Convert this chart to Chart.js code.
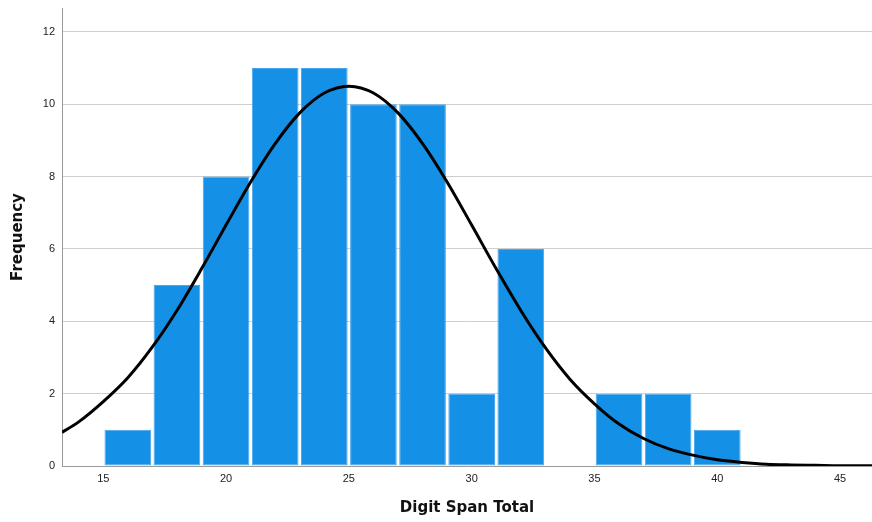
<!DOCTYPE html>
<html>
<head>
<meta charset="utf-8">
<script src="https://cdn.jsdelivr.net/npm/chart.js@4"></script>
<style>
  html, body { margin: 0; padding: 0; background: #fff; }
  #wrap { width: 872px; height: 522px; }
</style>
</head>
<body>
<div id="wrap"><canvas id="hist"></canvas></div>
<script>
// --- Data ---
const binStarts = [15, 17, 19, 21, 23, 25, 27, 29, 31, 33, 35, 37, 39];
const binWidth = 2;
const counts = [1, 5, 8, 11, 11, 10, 10, 2, 6, 0, 2, 2, 1];

// normal curve
const curveX = [13.32, 14, 15, 16, 17, 18, 19, 20, 21, 22, 23, 24, 25, 26, 27, 28, 29, 30,
                31, 32, 33, 34, 35, 36, 37, 38, 39, 40, 41, 42, 43, 44, 45, 46.3];
const curveY = [0.93, 1.22, 1.78, 2.44, 3.29, 4.30, 5.45, 6.66, 7.85, 8.91, 9.76, 10.31, 10.5, 10.31,
                9.76, 8.91, 7.85, 6.66, 5.45, 4.30, 3.27, 2.40, 1.72, 1.16, 0.76, 0.48, 0.30, 0.17,
                0.10, 0.05, 0.03, 0.02, 0.01, 0.01];

const xTicks = [15, 20, 25, 30, 35, 40, 45];
const yTicks = [0, 2, 4, 6, 8, 10, 12];

const tickFont = "'Liberation Sans', Arial, sans-serif";
const titleFont = "'DejaVu Sans', sans-serif";

const barData = binStarts.map((b, i) => ({ x: b + binWidth / 2, y: counts[i] }));
const lineData = curveX.map((x, i) => ({ x: x, y: curveY[i] }));

new Chart(document.getElementById('hist'), {
    type: 'bar',
    data: {
        datasets: [
            {
                type: 'line',
                data: lineData,
                borderColor: '#000',
                borderWidth: 3,
                pointRadius: 0,
                cubicInterpolationMode: 'monotone',
                fill: false,
                order: 0
            },
            {
                type: 'bar',
                data: barData,
                backgroundColor: '#1490e6',
                borderColor: '#4aa7ee',
                borderWidth: 1,
                borderSkipped: false,
                barPercentage: 0.95,
                categoryPercentage: 1,
                order: 1
            }
        ]
    },
    options: {
        responsive: true,
        maintainAspectRatio: false,
        animation: false,
        layout: { padding: { top: 8, right: 0, left: 0, bottom: 0 } },
        plugins: { legend: { display: false }, tooltip: { enabled: false } },
        scales: {
            x: {
                type: 'linear',
                min: 13.32,
                max: 46.3,
                offset: false,
                afterBuildTicks: s => { s.ticks = xTicks.map(v => ({ value: v })); },
                afterFit: s => { s.height = 56; s.paddingLeft = 0; s.paddingRight = 0; },
                grid: { display: false, offset: false, drawTicks: false },
                border: { display: true, color: '#9a9a9a', width: 1 },
                ticks: { color: '#222', font: { family: tickFont, size: 11 }, padding: 6, maxRotation: 0 },
                title: {
                    display: true,
                    text: 'Digit Span Total',
                    color: '#111',
                    font: { family: titleFont, size: 15, weight: 'bold' },
                    padding: { top: 4, bottom: 5 }
                }
            },
            y: {
                min: 0,
                max: 12.66,
                afterBuildTicks: s => { s.ticks = yTicks.map(v => ({ value: v })); },
                afterFit: s => { s.width = 62; s.paddingTop = 0; s.paddingBottom = 0; },
                grid: { color: '#cfcfcf', lineWidth: 1, drawTicks: false },
                border: { display: true, color: '#9a9a9a', width: 1 },
                ticks: { color: '#222', font: { family: tickFont, size: 11 }, padding: 7 },
                title: {
                    display: true,
                    text: 'Frequency',
                    color: '#111',
                    font: { family: titleFont, size: 15, weight: 'bold' },
                    padding: { top: 9, bottom: 4 }
                }
            }
        }
    }
});
</script>
</body>
</html>
